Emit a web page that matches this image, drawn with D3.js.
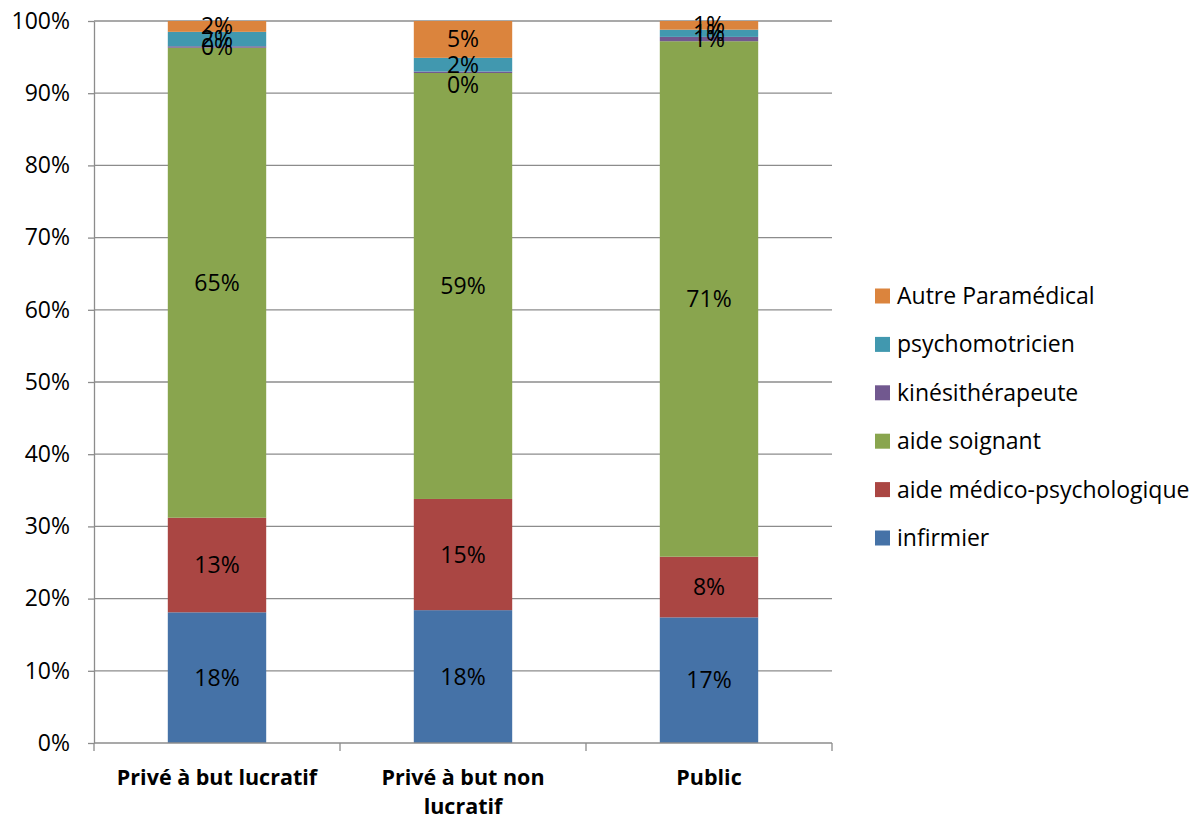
<!DOCTYPE html>
<html><head><meta charset="utf-8">
<script src="https://cdn.jsdelivr.net/npm/d3@7"></script>
<style>body{margin:0;background:#fff}svg{display:block}text{font-family:"Open Sans","Noto Sans",sans-serif}</style>
</head><body><svg id="c" width="1194" height="820"></svg>
<script>
const categories = ["Privé à but lucratif", "Privé à but non lucratif", "Public"];
const categoryLines = [["Privé à but lucratif"], ["Privé à but non", "lucratif"], ["Public"]];
const seriesNames = ["infirmier", "aide médico-psychologique", "aide soignant", "kinésithérapeute", "psychomotricien", "Autre Paramédical"];
const infirmier = [18.1, 18.4, 17.4];
const aideMedicoPsy = [13.1, 15.4, 8.4];
const aideSoignant = [65.1, 59.0, 71.4];
const kine = [0.2, 0.2, 0.6];
const psychomotricien = [2.0, 1.9, 1.0];
const autreParamedical = [1.5, 5.1, 1.2];
const colors = ["#4572A7", "#AA4643", "#89A54E", "#71588F", "#4198AF", "#DB843D"];
const yTicks = [0, 10, 20, 30, 40, 50, 60, 70, 80, 90, 100];

const series = [infirmier, aideMedicoPsy, aideSoignant, kine, psychomotricien, autreParamedical];
const rows = categories.map((c, i) => {
  const r = {cat: c};
  seriesNames.forEach((s, j) => r[s] = series[j][i]);
  return r;
});
const stack = d3.stack().keys(seriesNames)(rows);

const svg = d3.select("#c");
const L = 94, R = 832, T = 21, B = 743;
const FS = 23;
const x = d3.scaleBand().domain(categories).range([L, R]).paddingInner(0).paddingOuter(0);
const y = d3.scaleLinear().domain([0, 100]).range([B, T]);

// gridlines
svg.append("g").selectAll("line").data(yTicks.filter(t => t > 0)).join("line")
  .attr("x1", L).attr("x2", R).attr("y1", d => y(d)).attr("y2", d => y(d))
  .attr("stroke", "#8c8c8c").attr("stroke-width", 1.3);

// bars
const bw = x.bandwidth() * 0.4;
const g = svg.append("g");
stack.forEach((layer, j) => {
  g.selectAll(null).data(layer).join("rect")
    .attr("x", d => x(d.data.cat) + (x.bandwidth() - bw) / 2)
    .attr("width", bw)
    .attr("y", d => y(d[1]))
    .attr("height", d => y(d[0]) - y(d[1]))
    .attr("fill", colors[j]);
});
// labels (the tiny kinésithérapeute label of the 2nd bar sits just below its segment, as in the source)
stack.forEach((layer, j) => {
  g.selectAll(null).data(layer).join("text")
    .attr("x", d => x(d.data.cat) + x.bandwidth() / 2)
    .attr("y", (d, i) => (y(d[0]) + y(d[1])) / 2 + (j === 3 && i === 1 ? 13 : 0))
    .attr("dy", "0.35em")
    .attr("text-anchor", "middle")
    .attr("font-size", FS)
    .attr("fill", "#000")
    .text(d => Math.round(d[1] - d[0]) + "%");
});

// y axis
const ya = svg.append("g").attr("transform", `translate(${L},0)`)
  .call(d3.axisLeft(y).tickValues(yTicks).tickFormat(d => d + "%").tickSize(6).tickSizeOuter(0));
ya.select(".domain").attr("stroke", "#8c8c8c").attr("stroke-width", 1.3);
ya.selectAll(".tick line").attr("stroke", "#8c8c8c").attr("stroke-width", 1.3);
ya.selectAll(".tick text").attr("font-size", FS).attr("fill", "#000").attr("x", -24)
  .style("font-family", '"Open Sans","Noto Sans",sans-serif');

// x axis
svg.append("line").attr("x1", L).attr("x2", R).attr("y1", B).attr("y2", B)
  .attr("stroke", "#8c8c8c").attr("stroke-width", 1.3);
const bounds = categories.map(c => x(c)).concat([R]);
svg.append("g").selectAll("line").data(bounds).join("line")
  .attr("x1", d => d).attr("x2", d => d).attr("y1", B).attr("y2", B + 8)
  .attr("stroke", "#8c8c8c").attr("stroke-width", 1.3);
categories.forEach((c, i) => {
  const t = svg.append("text").attr("text-anchor", "middle")
    .attr("font-size", 21.5).attr("font-weight", "bold").attr("fill", "#000");
  categoryLines[i].forEach((ln, k) => {
    t.append("tspan").attr("x", x(c) + x.bandwidth() / 2).attr("y", 785 + k * 29).text(ln);
  });
});

// legend
const legendOrder = seriesNames.map((s, j) => ({name: s, color: colors[j]})).reverse();
const lg = svg.append("g");
legendOrder.forEach((d, i) => {
  const yy = 296 + i * 48.4;
  lg.append("rect").attr("x", 875).attr("y", yy - 7.5).attr("width", 15).attr("height", 15).attr("fill", d.color);
  lg.append("text").attr("x", 897).attr("y", yy).attr("dy", "0.35em").attr("font-size", FS).attr("fill", "#000").text(d.name);
});
</script></body></html>
